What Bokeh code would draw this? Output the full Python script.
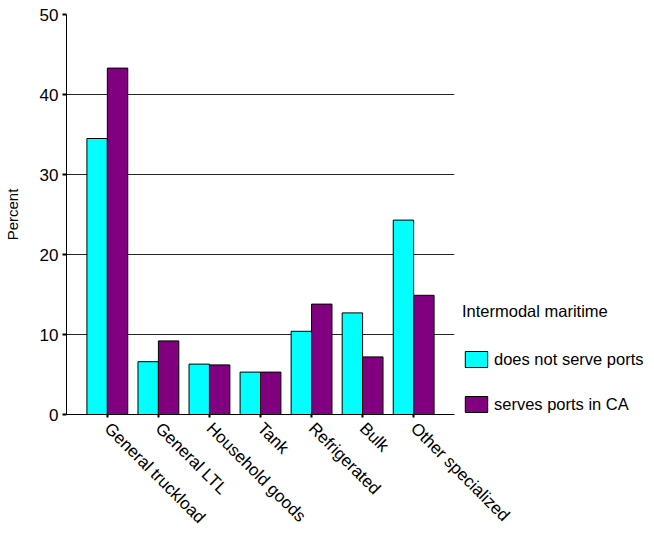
import math
from bokeh.plotting import figure
from bokeh.models import Range1d, FixedTicker, Legend, LegendItem, ColumnDataSource
from bokeh.embed import file_html
from bokeh.resources import INLINE

categories = ["General truckload", "General LTL", "Household goods", "Tank",
              "Refrigerated", "Bulk", "Other specialized"]
not_serve = [34.5, 6.6, 6.3, 5.3, 10.4, 12.7, 24.3]
serves_ca = [43.3, 9.2, 6.2, 5.3, 13.8, 7.2, 14.9]
series_names = ["does not serve ports", "serves ports in CA"]
legend_title = "Intermodal maritime"
y_ticks = [0, 10, 20, 30, 40, 50]

FONT = "Liberation Sans"
pos = list(range(len(categories)))

src = ColumnDataSource(dict(
    x1=[i - 0.2 for i in pos], x2=[i + 0.2 for i in pos],
    a=not_serve, b=serves_ca))

p = figure(frame_width=388, frame_height=400, output_backend="svg", toolbar_location=None,
           x_range=Range1d(-0.8, 6.8), y_range=Range1d(0, 50),
           min_border_left=59, min_border_top=14, min_border_right=191,
           min_border_bottom=111)
p.outline_line_color = None
p.background_fill_color = "white"

r1 = p.vbar(x="x1", top="a", width=0.4, bottom=0, source=src,
            fill_color="#00FFFF", line_color="black", line_width=1)
r2 = p.vbar(x="x2", top="b", width=0.4, bottom=0, source=src,
            fill_color="#800080", line_color="black", line_width=1)

# y axis
p.yaxis.ticker = FixedTicker(ticks=y_ticks)
p.yaxis.minor_tick_line_color = None
p.yaxis.major_tick_out = 4
p.yaxis.major_tick_in = 0
p.yaxis.axis_line_color = "black"
p.yaxis.major_tick_line_color = "black"
p.yaxis.major_tick_line_width = 2
p.yaxis.major_label_text_font = FONT
p.yaxis.major_label_text_font_size = "17px"
p.yaxis.major_label_text_color = "black"
p.yaxis.major_label_standoff = 4
p.yaxis.axis_label = "Percent"
p.yaxis.axis_label_text_font = FONT
p.yaxis.axis_label_text_font_size = "15px"
p.yaxis.axis_label_text_font_style = "normal"
p.yaxis.axis_label_text_color = "black"
p.yaxis.axis_label_standoff = 16

p.ygrid.ticker = FixedTicker(ticks=y_ticks)
p.ygrid.grid_line_color = "black"
p.ygrid.grid_line_alpha = 0.85
p.xgrid.visible = False

# x axis
p.xaxis.ticker = FixedTicker(ticks=pos)
p.xaxis.major_label_overrides = {i: c for i, c in zip(pos, categories)}
p.xaxis.major_label_orientation = -math.pi / 4
p.xaxis.minor_tick_line_color = None
p.xaxis.major_tick_out = 3
p.xaxis.major_tick_in = 0
p.xaxis.major_tick_line_width = 2
p.xaxis.axis_line_color = "black"
p.xaxis.major_tick_line_color = "black"
p.xaxis.major_label_text_font = FONT
p.xaxis.major_label_text_font_size = "17px"
p.xaxis.major_label_text_color = "black"
p.xaxis.major_label_standoff = 8

legend = Legend(
    items=[LegendItem(label=series_names[0], renderers=[r1]),
           LegendItem(label=series_names[1], renderers=[r2])],
    location=(8, 0), title=legend_title,
    title_text_font=FONT, title_text_font_size="16.5px", title_text_font_style="normal",
    title_text_color="black",
    label_text_font=FONT, label_text_font_size="16.5px", label_text_color="black",
    glyph_width=28, glyph_height=20, label_height=20, spacing=25,
    padding=0, margin=0, border_line_color=None, background_fill_alpha=0,
    label_standoff=4, title_standoff=28)
p.add_layout(legend, "right")

open("out.html", "w").write(file_html(p, INLINE))
